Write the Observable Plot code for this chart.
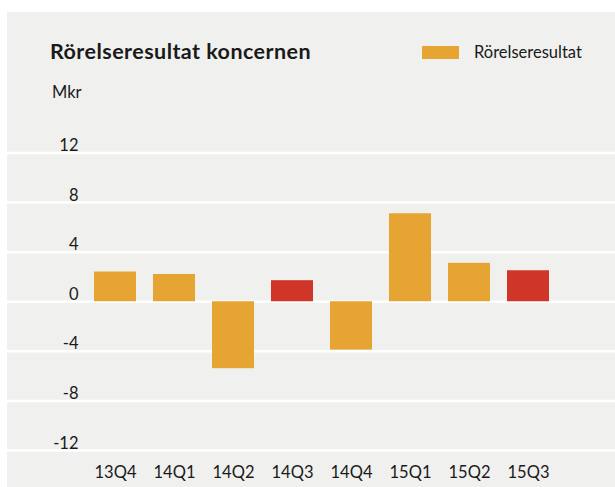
<!DOCTYPE html>
<html><head><meta charset="utf-8">
<script src="https://cdn.jsdelivr.net/npm/d3@7"></script>
<script src="https://cdn.jsdelivr.net/npm/@observablehq/plot@0.6"></script>
<style>
body{margin:0;background:#fff;font-family:Lato,sans-serif;}
#panel{position:absolute;left:7px;top:12px;width:608px;height:475px;background:#f0f0ee;}
.t{position:absolute;line-height:1;color:#1a1a1a;white-space:nowrap;}
#title{left:50px;top:41px;font-size:21.5px;font-weight:bold;letter-spacing:0.45px;}
#unit{left:52px;top:84.25px;font-size:16.5px;}
#swatch{position:absolute;left:422px;top:46px;width:37px;height:13px;background:#e6a532;}
#legend{left:474px;top:44.25px;font-size:16.5px;}
#chart{position:absolute;left:0;top:132px;}
</style></head><body>
<div id="panel"></div>
<div class="t" id="title">Rörelseresultat koncernen</div>
<div class="t" id="unit">Mkr</div>
<div id="swatch"></div>
<div class="t" id="legend">Rörelseresultat</div>
<div id="chart"></div>
<script>
const quarters = ["13Q4", "14Q1", "14Q2", "14Q3", "14Q4", "15Q1", "15Q2", "15Q3"];
const values = [2.4, 2.2, -5.4, 1.7, -3.9, 7.1, 3.1, 2.5];
const highlight = [false, false, false, true, false, false, false, true];
const yTicks = [12, 8, 4, 0, -4, -8, -12];
const baseColor = "#e6a532";
const highlightColor = "#cf3628";

const data = quarters.map((q, i) => ({q, v: values[i], c: highlight[i] ? highlightColor : baseColor}));

const plot = Plot.plot({
  width: 615, height: 355,
  marginLeft: 7, marginRight: 0, marginTop: 0, marginBottom: 0,
  style: {background: "transparent", fontFamily: "Lato, sans-serif", fontSize: "16.5px", color: "#1a1a1a"},
  x: {domain: quarters, range: [85.5, 557.5], paddingInner: 0.288, paddingOuter: 0.144, round: false, axis: null},
  y: {domain: [-12, 12], range: [318, 20.5], axis: null},
  color: {type: "identity"},
  marks: [
    Plot.ruleY(yTicks, {stroke: "#ffffff", strokeWidth: 2.5}),
    Plot.barY(data, {x: "q", y: "v", fill: "c"}),
    Plot.text(yTicks, {y: d => d, text: d => String(d), frameAnchor: "left", dx: 71, textAnchor: "end", lineAnchor: "bottom", dy: -2, fontSize: 16.5, fill: "#1a1a1a"}),
    Plot.text(quarters, {x: d => d, text: d => d, frameAnchor: "bottom", lineAnchor: "bottom", dy: -10, fontSize: 16.5, fill: "#1a1a1a"})
  ]
});
document.getElementById("chart").appendChild(plot);
</script>
</body></html>
